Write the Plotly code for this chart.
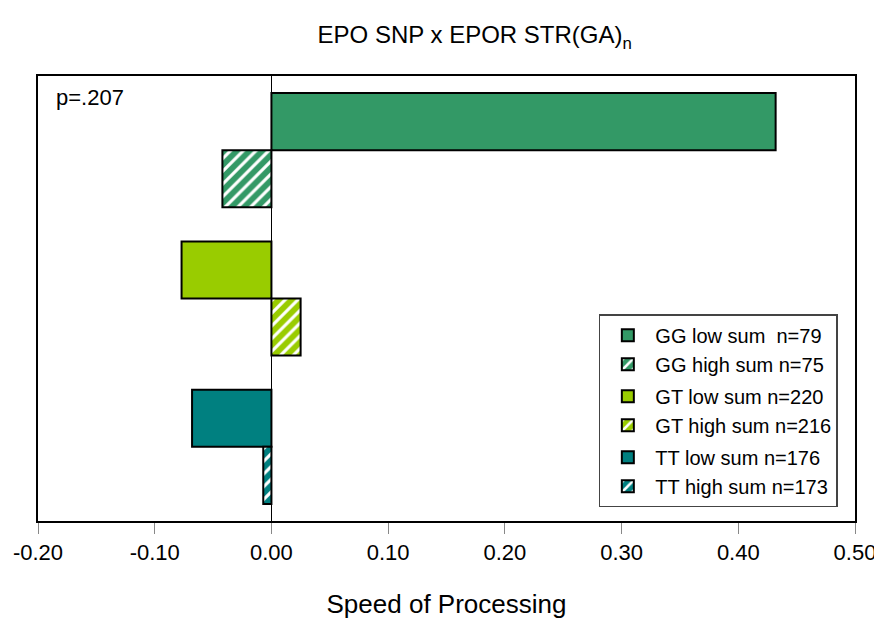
import plotly.graph_objects as go

genotypes = ["GG", "GT", "TT"]
low_vals = [0.432, -0.077, -0.068]
high_vals = [-0.042, 0.025, -0.007]
low_n = [79, 220, 176]
high_n = [75, 216, 173]
colors = ["#339966", "#99CC00", "#008080"]

fig = go.Figure()
for i, g in enumerate(genotypes):
    low_name = f"{g} low sum  n={low_n[i]}" if g == "GG" else f"{g} low sum n={low_n[i]}"
    fig.add_trace(go.Bar(
        y=[g], x=[low_vals[i]], orientation="h", name=low_name,
        offsetgroup="low", legendgroup=g,
        marker=dict(color=colors[i], line=dict(color="black", width=2)),
    ))
    fig.add_trace(go.Bar(
        y=[g], x=[high_vals[i]], orientation="h", name=f"{g} high sum n={high_n[i]}",
        offsetgroup="high", legendgroup=g,
        marker=dict(color=colors[i], line=dict(color="black", width=2),
                    pattern=dict(shape="/", fgcolor="white", bgcolor=colors[i],
                                 size=9, solidity=0.35, fillmode="replace")),
    ))

fig.add_annotation(text="p=.207", xref="paper", yref="paper", x=0.02, y=0.985,
                   xanchor="left", yanchor="top", showarrow=False,
                   font=dict(size=22, color="black"))

# page body adds ~8px offset, so the figure is sized/placed to compensate
fig.update_layout(
    width=874, height=615,
    margin=dict(l=30, r=27, t=68, b=102),
    paper_bgcolor="white", plot_bgcolor="white",
    font=dict(family="Liberation Sans, Arial, sans-serif", color="black"),
    title=dict(text="EPO SNP x EPOR STR(GA)<sub>n</sub>", x=0.534, xanchor="center",
               y=0.956, yanchor="middle", font=dict(size=24)),
    barmode="group", bargap=0.23, bargroupgap=0,
    showlegend=True,
    legend=dict(x=0.979, y=0.031, xanchor="right", yanchor="bottom",
                bordercolor="#444", borderwidth=1.5, bgcolor="white",
                font=dict(size=20), traceorder="grouped", tracegroupgap=3,
                itemsizing="constant", itemwidth=45),
    xaxis=dict(range=[-0.2, 0.5], tickvals=[-0.2, -0.1, 0, 0.1, 0.2, 0.3, 0.4, 0.5],
               ticktext=["-0.20", "-0.10", "0.00", "0.10", "0.20", "0.30", "0.40", "0.50"],
               ticks="outside", ticklen=11, tickcolor="#888", tickwidth=1,
               showgrid=False, zeroline=True, zerolinecolor="black", zerolinewidth=1.2,
               showline=True, linecolor="black", linewidth=2, mirror=True,
               tickfont=dict(size=22), automargin=False,
               title=dict(text="Speed of Processing", font=dict(size=26), standoff=30)),
    yaxis=dict(range=[2.5, -0.5], showticklabels=False, ticks="", showgrid=False,
               showline=True, linecolor="black", linewidth=2, mirror=True,
               automargin=False),
)

fig.write_html("out.html")
